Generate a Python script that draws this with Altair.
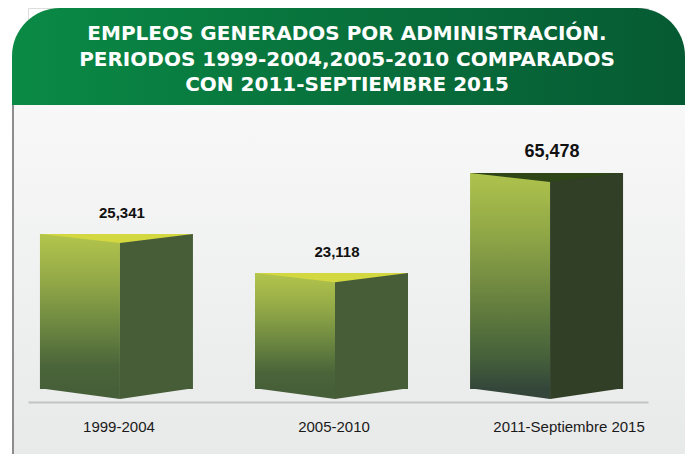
import altair as alt
import pandas as pd

# ---- data ----
periods = ["1999-2004", "2005-2010", "2011-Septiembre 2015"]
empleos = [25341, 23118, 65478]
value_labels = ["25,341", "23,118", "65,478"]
title_lines = [
    "EMPLEOS GENERADOS POR ADMINISTRACIÓN.",
    "PERIODOS 1999-2004,2005-2010 COMPARADOS",
    "CON 2011-SEPTIEMBRE 2015",
]

df = pd.DataFrame({"periodo": periods, "empleos": empleos, "etiqueta": value_labels})
df["base"] = 0
title_df = pd.DataFrame({"linea": title_lines, "n": list(range(len(title_lines)))})
one = pd.DataFrame({"k": [0]})

FONT = "Liberation Sans"
TFONT = "DejaVu Sans"
W, H = 620, 394

xscale = alt.Scale(domain=periods, paddingInner=0.287, paddingOuter=0.085)
# piecewise scale reproducing the original (non-proportional) infographic heights
yscale = alt.Scale(domain=[0, 20000, 26000, 70000], range=[381, 320, 214.4, 159.3],
                   nice=False, zero=False)

X = alt.X("periodo:N", scale=xscale, sort=periods,
          axis=alt.Axis(title=None, ticks=False, domainColor="#c3c4c4", domainWidth=2,
                        labelAngle=0, labelFont=FONT, labelFontSize=15, labelColor="#1a1a1a",
                        labelPadding=17,
                        labelOffset={"condition": {"test": "datum.value === '2011-Septiembre 2015'",
                                                   "value": 16},
                                     "value": -4},
                        zindex=2))
Y = alt.Y("empleos:Q", scale=yscale, axis=None)
YB = alt.Y("base:Q", scale=yscale, axis=None)

# ---- decorations ----
panel = alt.Chart(one).mark_rect(
    color=alt.Gradient(gradient="linear", x1=0, x2=0, y1=0, y2=1,
                       stops=[alt.GradientStop(color="#f8f8f8", offset=0),
                              alt.GradientStop(color="#e8e9e9", offset=1)])
).encode(x=alt.value(-16), x2=alt.value(657), y=alt.value(97), y2=alt.value(446))

header = alt.Chart(one).mark_rect(
    cornerRadiusTopLeft=48, cornerRadiusTopRight=48,
    color=alt.Gradient(gradient="linear", x1=0, x2=1, y1=0, y2=0,
                       stops=[alt.GradientStop(color="#0a8a45", offset=0),
                              alt.GradientStop(color="#08713c", offset=0.5),
                              alt.GradientStop(color="#065a33", offset=1)])
).encode(x=alt.value(-16), x2=alt.value(657), y=alt.value(0), y2=alt.value(97))

border = alt.Chart(one).mark_rule(color="#8d8d8d", strokeWidth=2).encode(
    x=alt.value(-15), y=alt.value(97), y2=alt.value(446))

title_y = [26, 52, 77]
title_layers = [
    alt.Chart(title_df).transform_filter(alt.datum.n == i).mark_text(
        font=TFONT, fontSize=20, fontWeight="bold", color="white",
        align="center", baseline="middle"
    ).encode(x=alt.value(319), y=alt.value(title_y[i]), text="linea:N")
    for i in range(len(title_lines))
]

# ---- 3D bars ----
grad_stops_a = [alt.GradientStop(color="#b3c54c", offset=0),
                alt.GradientStop(color="#93a947", offset=0.3),
                alt.GradientStop(color="#6b8640", offset=0.6),
                alt.GradientStop(color="#4b653a", offset=0.85),
                alt.GradientStop(color="#465f38", offset=1)]
grad_stops_b = [alt.GradientStop(color="#aec34c", offset=0),
                alt.GradientStop(color="#8ea546", offset=0.3),
                alt.GradientStop(color="#66803f", offset=0.6),
                alt.GradientStop(color="#46613a", offset=0.85),
                alt.GradientStop(color="#34463a", offset=1)]

left12 = alt.Chart(df).transform_filter(alt.datum.periodo != periods[2]).mark_bar(
    width=80, xOffset=-43, strokeWidth=0,
    color=alt.Gradient(gradient="linear", x1=0, x2=0, y1=0, y2=1, stops=grad_stops_a)
).encode(x=X, y=Y, y2=alt.Y2("base:Q"))

left3 = alt.Chart(df).transform_filter(alt.datum.periodo == periods[2]).mark_bar(
    width=80, xOffset=-43, strokeWidth=0,
    color=alt.Gradient(gradient="linear", x1=0, x2=0, y1=0, y2=1, stops=grad_stops_b)
).encode(x=X, y=Y, y2=alt.Y2("base:Q"))

right_colors = alt.Scale(domain=periods, range=["#465d37", "#465d37", "#303f26"])
left_bottom_colors = alt.Scale(domain=periods, range=["#465f38", "#465f38", "#34463a"])
top_colors = alt.Scale(domain=periods, range=["#d3d740", "#d3d740", "#2e4518"])

right = alt.Chart(df).mark_bar(width=73, xOffset=33.5, strokeWidth=0).encode(
    x=X, y=Y, y2=alt.Y2("base:Q"),
    color=alt.Color("periodo:N", scale=right_colors, legend=None))

SZ = 153 ** 2
top_face = alt.Chart(df).mark_point(
    shape="M -1 0 L 1 0 L 0.046 0.118 Z", size=SZ, filled=True, opacity=1,
    strokeWidth=0, xOffset=-6.5
).encode(x=X, y=Y, color=alt.Color("periodo:N", scale=top_colors, legend=None))

bottom_left = alt.Chart(df).mark_point(
    shape="M -1 -0.01 L 0.046 -0.01 L 0.046 0.13 Z", size=SZ, filled=True, opacity=1,
    strokeWidth=0, xOffset=-6.5
).encode(x=X, y=YB, color=alt.Color("periodo:N", scale=left_bottom_colors, legend=None))

bottom_right = alt.Chart(df).mark_point(
    shape="M 0.046 -0.01 L 1 -0.01 L 0.046 0.13 Z", size=SZ, filled=True, opacity=1,
    strokeWidth=0, xOffset=-6.5
).encode(x=X, y=YB, color=alt.Color("periodo:N", scale=right_colors, legend=None))

labels = alt.Chart(df).mark_text(
    font=FONT, fontWeight="bold", color="#111111", align="center", baseline="middle",
    dy=-21, xOffset=-1
).encode(
    x=X, y=Y, text="etiqueta:N",
    size=alt.condition(alt.datum.periodo == periods[2], alt.value(18), alt.value(15)),
)

chart = alt.layer(
    panel, header, border, *title_layers,
    left12, left3, right, bottom_left, bottom_right, top_face, labels
).resolve_scale(color="independent").properties(
    width=W, height=H,
    padding={"left": 4, "top": 0, "right": 0, "bottom": 0},
).configure_view(stroke=None).configure(background="white")

chart.save("out.html", embed_options={"renderer": "svg", "actions": False})
